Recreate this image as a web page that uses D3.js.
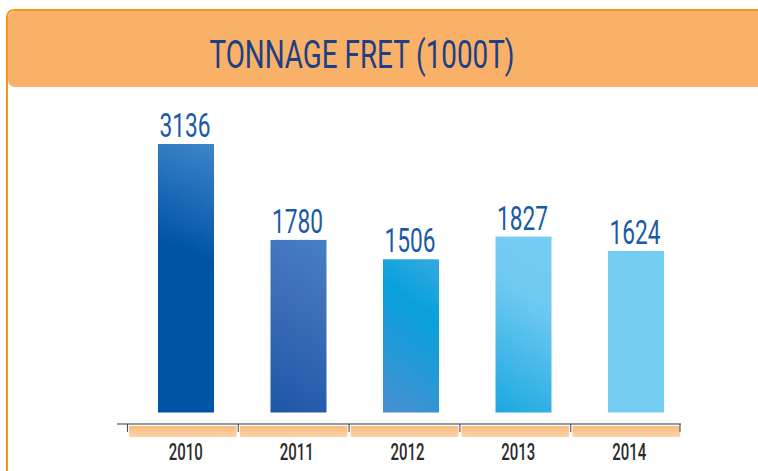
<!DOCTYPE html>
<html>
<head>
<meta charset="utf-8">
<script src="https://cdn.jsdelivr.net/npm/d3@7"></script>
<style>
  html, body { margin: 0; padding: 0; background: #fff; }
  svg { display: block; font-family: Roboto, 'DejaVu Sans', sans-serif; }
</style>
</head>
<body>
<svg id="chart" width="758" height="471"></svg>
<script>
const title = 'TONNAGE FRET (1000T)';
const years = ['2010', '2011', '2012', '2013', '2014'];
const tonnage = [3136, 1780, 1506, 1827, 1624];

// per-bar gradient stops (bottom-left -> top-right)
const barColors = [
  ['#0054a6', '#0054a6', '#4b8fd0'],
  ['#1d56a8', '#3f70b9', '#4a86cb'],
  ['#4a8fd0', '#08a0dc', '#4fb0e3'],
  ['#1ba8e0', '#6fc9f1', '#78cff4'],
  ['#74cef4', '#74cef4', '#74cef4'],
];

const svg = d3.select('#chart');
const defs = svg.append('defs');

// frame + header
svg.append('path')
  .attr('d', 'M7,480 L7,18 Q7,10 15,10 L770,10')
  .attr('fill', 'none')
  .attr('stroke', '#f7941d')
  .attr('stroke-width', 2);

svg.append('rect')
  .attr('x', 8)
  .attr('y', 11)
  .attr('width', 770)
  .attr('height', 76)
  .attr('rx', 7)
  .attr('fill', '#f9b168');

svg.append('text')
  .attr('x', 362)
  .attr('y', 68)
  .attr('text-anchor', 'middle')
  .attr('font-size', 39)
  .attr('font-weight', 400)
  .attr('fill', '#1d3f85')
  .attr('textLength', 305)
  .attr('lengthAdjust', 'spacingAndGlyphs')
  .text(title);

// scales
const xBar = d3.scalePoint()
  .domain(years)
  .range([186, 636]);

const xAxisBand = d3.scaleBand()
  .domain(years)
  .range([128, 681])
  .paddingInner(0.03)
  .paddingOuter(0.01);

const yScale = d3.scaleLinear()
  .domain([-660, 3136])
  .range([412.5, 144]);

const barWidth = 56;

tonnage.forEach((d, i) => {
  const c = barColors[i];
  const x0 = xBar(years[i]) - barWidth / 2;
  const g = defs.append('linearGradient')
    .attr('id', `bar-grad-${i}`)
    .attr('gradientUnits', 'userSpaceOnUse')
    .attr('x1', x0).attr('y1', yScale(-660))
    .attr('x2', x0 + barWidth * 2).attr('y2', yScale(d));
  g.append('stop').attr('offset', '0%').attr('stop-color', c[0]);
  g.append('stop').attr('offset', '55%').attr('stop-color', c[1]);
  g.append('stop').attr('offset', '100%').attr('stop-color', c[2]);
});

const bandGrad = defs.append('linearGradient')
  .attr('id', 'band-grad')
  .attr('x1', 0).attr('y1', 0)
  .attr('x2', 0).attr('y2', 1);
bandGrad.append('stop').attr('offset', '0%').attr('stop-color', '#fabb7e');
bandGrad.append('stop').attr('offset', '100%').attr('stop-color', '#fdd3a8');

// bars
svg.append('g')
  .selectAll('rect')
  .data(tonnage)
  .enter()
  .append('rect')
  .attr('x', (d, i) => xBar(years[i]) - barWidth / 2)
  .attr('y', d => yScale(d))
  .attr('width', barWidth)
  .attr('height', d => yScale(-660) - yScale(d))
  .attr('fill', (d, i) => `url(#bar-grad-${i})`);

// value labels
svg.append('g')
  .selectAll('text')
  .data(tonnage)
  .enter()
  .append('text')
  .attr('x', (d, i) => xBar(years[i]) - 1)
  .attr('y', d => yScale(d) - 7)
  .attr('text-anchor', 'middle')
  .attr('font-size', 34)
  .attr('font-weight', 400)
  .attr('fill', '#1a5ba8')
  .attr('textLength', 51)
  .attr('lengthAdjust', 'spacingAndGlyphs')
  .text(d => d);

// axis
const axisY = 424;
svg.append('line')
  .attr('x1', 117)
  .attr('x2', xAxisBand.range()[1])
  .attr('y1', axisY)
  .attr('y2', axisY)
  .attr('stroke', '#7a7a7a')
  .attr('stroke-width', 1.5);

svg.append('g')
  .selectAll('rect')
  .data(years)
  .enter()
  .append('rect')
  .attr('x', d => xAxisBand(d))
  .attr('y', axisY + 2)
  .attr('width', xAxisBand.bandwidth())
  .attr('height', 11)
  .attr('fill', 'url(#band-grad)');

const tickXs = years.map(d => xAxisBand(d) - xAxisBand.step() * xAxisBand.paddingInner() / 2)
  .concat([xAxisBand.range()[1] - 1]);
svg.append('g')
  .selectAll('line')
  .data(tickXs)
  .enter()
  .append('line')
  .attr('x1', d => d)
  .attr('x2', d => d)
  .attr('y1', axisY)
  .attr('y2', axisY + 8)
  .attr('stroke', '#444')
  .attr('stroke-width', 1);

svg.append('g')
  .selectAll('text')
  .data(years)
  .enter()
  .append('text')
  .attr('x', d => xAxisBand(d) + xAxisBand.bandwidth() / 2 + 3)
  .attr('y', 460)
  .attr('text-anchor', 'middle')
  .attr('font-size', 24)
  .attr('font-weight', 500)
  .attr('fill', '#2b2b2b')
  .attr('textLength', 34)
  .attr('lengthAdjust', 'spacingAndGlyphs')
  .text(d => d);
</script>
</body>
</html>
